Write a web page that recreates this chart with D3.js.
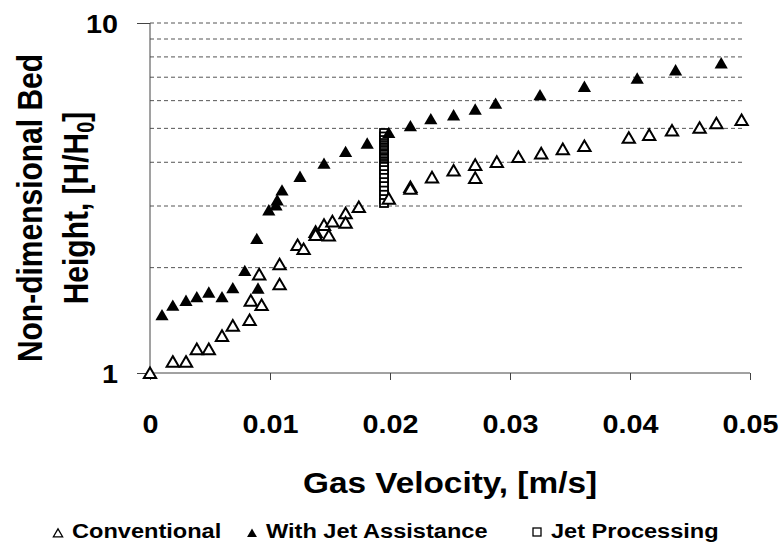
<!DOCTYPE html>
<html>
<head>
<meta charset="utf-8">
<script src="https://cdn.jsdelivr.net/npm/d3@7"></script>
<style>
  body { margin: 0; background: #fff; }
  svg text { font-family: "Liberation Sans", Arial, sans-serif; font-weight: bold; fill: #000; }
</style>
</head>
<body>
<svg id="chart" width="780" height="546"></svg>
<script>
// gas velocity [m/s] vs H/H0
var conventional = [
    [0, 1.0], [0.0019, 1.077], [0.0030, 1.077], [0.0039, 1.17], [0.0049, 1.17],
    [0.0060, 1.276], [0.0069, 1.365], [0.0083, 1.417], [0.0084, 1.61], [0.0091, 1.913],
    [0.0093, 1.564], [0.0108, 1.793], [0.0108, 2.044], [0.0123, 2.32], [0.0128, 2.26],
    [0.0138, 2.53], [0.0138, 2.48], [0.0145, 2.65], [0.0149, 2.47], [0.0152, 2.71],
    [0.0163, 2.86], [0.0163, 2.69], [0.0174, 2.98], [0.0199, 3.15], [0.0217, 3.40],
    [0.0217, 3.36], [0.0235, 3.62], [0.0253, 3.79], [0.0271, 3.93], [0.0271, 3.61],
    [0.0289, 4.01], [0.0307, 4.14], [0.0326, 4.24], [0.0344, 4.36], [0.0362, 4.45],
    [0.0399, 4.70], [0.0416, 4.79], [0.0435, 4.93], [0.0458, 5.02], [0.0472, 5.17],
    [0.0493, 5.28]
];
var jetAssist = [
    [0.0010, 1.465], [0.0019, 1.56], [0.0030, 1.61], [0.0039, 1.65], [0.0049, 1.70],
    [0.0060, 1.65], [0.0069, 1.75], [0.0079, 1.96], [0.0089, 2.42], [0.0090, 1.746],
    [0.0099, 2.92], [0.0105, 3.02], [0.0106, 3.12], [0.0110, 3.33], [0.0125, 3.64],
    [0.0145, 3.97], [0.0163, 4.29], [0.0181, 4.53], [0.0199, 4.86], [0.0217, 5.08],
    [0.0234, 5.32], [0.0253, 5.46], [0.0271, 5.67], [0.0288, 5.89], [0.0325, 6.23],
    [0.0362, 6.58], [0.0406, 6.95], [0.0438, 7.34], [0.0476, 7.68]
];
var processingX = 0.0195;
var processingY = [4.85, 4.74, 4.63, 4.54, 4.48, 4.42, 4.365, 4.31, 4.25, 4.20, 4.14, 4.09,
    4.03, 3.98, 3.93, 3.88, 3.80, 3.70, 3.61, 3.51, 3.42, 3.32, 3.23, 3.14, 3.06];

var xTicks = [0, 0.01, 0.02, 0.03, 0.04, 0.05];
var yTicks = [1, 10];
var gridValues = [2, 3, 4, 5, 6, 7, 8, 9, 10];
var legendLabels = ['Conventional', 'With Jet Assistance', 'Jet Processing'];

var stretch = 'scale(1.15,1)';   // the scanned figure is a bit wide

var svg = d3.select('#chart');

var x = d3.scaleLinear().domain([0, 0.05]).range([150, 750]);
var y = d3.scaleLog().domain([1, 10]).range([373, 23]);

// dashed gridlines
svg.append('g')
    .selectAll('line')
    .data(gridValues)
    .enter()
    .append('line')
    .attr('x1', x(0)).attr('x2', 745)
    .attr('y1', function(d) { return y(d); })
    .attr('y2', function(d) { return y(d); })
    .attr('stroke', '#555')
    .attr('stroke-width', 1)
    .attr('stroke-dasharray', '4,3');

// x axis
var xAxis = svg.append('g')
    .attr('transform', 'translate(0,' + y(1) + ')')
    .call(d3.axisBottom(x).tickValues(xTicks).tickSize(7).tickPadding(0)
        .tickFormat(function(d) { return d === 0 ? '0' : d3.format('.2f')(d); }));
xAxis.select('.domain').attr('stroke', '#444').attr('d', 'M150,0H750');
xAxis.selectAll('line').attr('stroke', '#444');
xAxis.selectAll('text')
    .attr('y', null).attr('dy', null)
    .attr('transform', 'translate(0,60) ' + stretch)
    .style('font-size', '25px');

// y axis
var yAxis = svg.append('g')
    .attr('transform', 'translate(' + x(0) + ',0)')
    .call(d3.axisLeft(y).tickValues(yTicks).tickSize(13).tickFormat(d3.format('d')));
yAxis.select('.domain').attr('stroke', '#444').attr('d', 'M0,' + y(10) + 'V' + y(1));
yAxis.selectAll('line').attr('stroke', '#444');
yAxis.selectAll('text')
    .attr('x', 0).attr('dy', '0.36em')
    .attr('transform', 'translate(-32,0) ' + stretch)
    .style('font-size', '25px');

// axis titles
svg.append('text')
    .attr('transform', 'translate(450,493) ' + stretch)
    .attr('text-anchor', 'middle')
    .style('font-size', '29px')
    .text('Gas Velocity, [m/s]');

svg.append('text')
    .attr('transform', 'translate(42,208) ' + stretch + ' rotate(-90)')
    .attr('text-anchor', 'middle')
    .style('font-size', '30px')
    .text('Non-dimensional Bed');

var t2 = svg.append('text')
    .attr('transform', 'translate(88,208) ' + stretch + ' rotate(-90)')
    .attr('text-anchor', 'middle')
    .style('font-size', '30px');
t2.append('tspan').text('Height, [H/H');
t2.append('tspan').attr('dy', '0.25em').style('font-size', '20px').text('0');
t2.append('tspan').attr('dy', '-0.17em').text(']');

// markers
var tri = function(s) {
    return 'M0,' + (-s) + 'L' + (s * 1.1) + ',' + (s * 0.9) + 'L' + (-s * 1.1) + ',' + (s * 0.9) + 'Z';
};

svg.append('g')
    .selectAll('rect')
    .data(processingY)
    .enter()
    .append('rect')
    .attr('x', x(processingX) - 4)
    .attr('y', function(d) { return y(d) - 4; })
    .attr('width', 8).attr('height', 8)
    .attr('fill', '#fff')
    .attr('stroke', '#000')
    .attr('stroke-width', 1.8);

svg.append('g')
    .selectAll('path')
    .data(conventional)
    .enter()
    .append('path')
    .attr('transform', function(d) { return 'translate(' + x(d[0]) + ',' + y(d[1]) + ')'; })
    .attr('d', tri(5.6))
    .attr('fill', '#fff')
    .attr('stroke', '#000')
    .attr('stroke-width', 2);

svg.append('g')
    .selectAll('path')
    .data(jetAssist)
    .enter()
    .append('path')
    .attr('transform', function(d) { return 'translate(' + x(d[0]) + ',' + y(d[1]) + ')'; })
    .attr('d', tri(6))
    .attr('fill', '#000');

// legend
var legend = svg.append('g').attr('transform', 'translate(0,538)');
var legendPos = [58, 252, 537];

legend.append('path')
    .attr('transform', 'translate(' + legendPos[0] + ',-5)')
    .attr('d', tri(4.2))
    .attr('fill', '#fff').attr('stroke', '#000').attr('stroke-width', 1.3);
legend.append('path')
    .attr('transform', 'translate(' + legendPos[1] + ',-5)')
    .attr('d', tri(4.5))
    .attr('fill', '#000');
legend.append('rect')
    .attr('x', legendPos[2] - 4).attr('y', -10)
    .attr('width', 8).attr('height', 8)
    .attr('fill', '#fff').attr('stroke', '#000').attr('stroke-width', 1.3);

legend.selectAll('text.lab')
    .data(legendLabels)
    .enter()
    .append('text')
    .attr('class', 'lab')
    .attr('transform', function(d, i) { return 'translate(' + (legendPos[i] + 14) + ',0) ' + stretch; })
    .style('font-size', '20.5px')
    .text(function(d) { return d; });
</script>
</body>
</html>
